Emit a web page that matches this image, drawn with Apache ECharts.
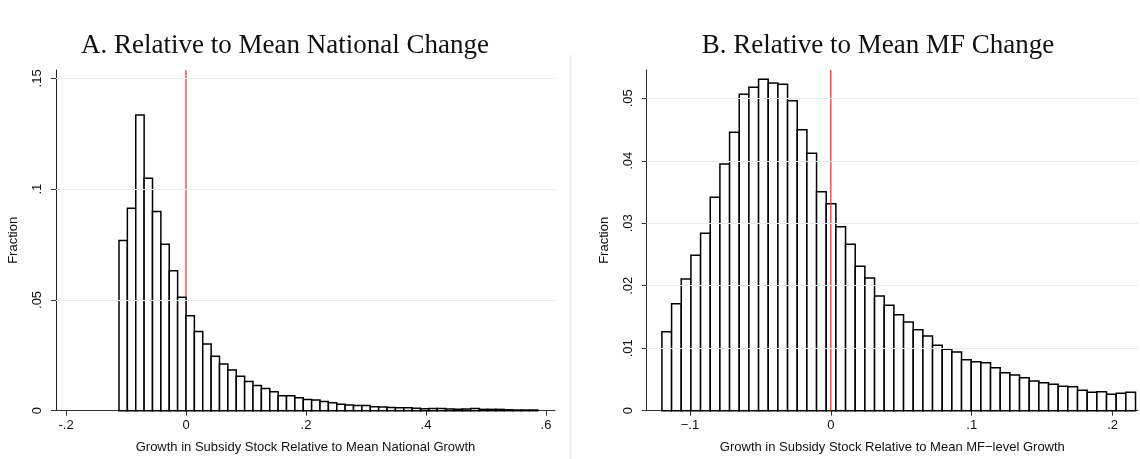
<!DOCTYPE html>
<html>
<head>
<meta charset="utf-8">
<script src="https://cdn.jsdelivr.net/npm/echarts@6/dist/echarts.min.js"></script>
<style>html,body{margin:0;padding:0;background:#fff}#c{width:1140px;height:459px}</style>
</head>
<body>
<div id="c"></div>
<script>
// ---- Panel A data: histogram of growth relative to mean national growth ----
const titleA = "A. Relative to Mean National Change";
const xNameA = "Growth in Subsidy Stock Relative to Mean National Growth";
const binStartA = -0.1117;
const binWidthA = 0.01396;
const fractionA = [
  0.0768, 0.0914, 0.1335, 0.1049, 0.0899, 0.0751, 0.0632, 0.0512, 0.0429, 0.0357,
  0.0301, 0.0246, 0.0211, 0.0184, 0.0155, 0.0132, 0.0114, 0.0100, 0.0085, 0.0067,
  0.0068, 0.0059, 0.0051, 0.0048, 0.0041, 0.0036, 0.0029, 0.0026, 0.0024, 0.0023,
  0.0018, 0.0017, 0.0014, 0.0013, 0.0013, 0.0011, 0.0009, 0.0010, 0.0010, 0.0008,
  0.0007, 0.0008, 0.0010, 0.0006, 0.0006, 0.0006, 0.0004, 0.0003, 0.0003, 0.0003
];
const xTicksA = [-0.2, 0, 0.2, 0.4, 0.6];
const yTicksA = [0, 0.05, 0.1, 0.15];
const xRangeA = [-0.2167, 0.615];
const yRangeA = [0, 0.1538];

// ---- Panel B data: histogram of growth relative to mean MF-level growth ----
const titleB = "B. Relative to Mean MF Change";
const xNameB = "Growth in Subsidy Stock Relative to Mean MF\u2212level Growth";
const binStartB = -0.1199;
const binWidthB = 0.00686;
const fractionB = [
  0.01265, 0.01713, 0.02108, 0.02487, 0.02839, 0.03415, 0.03948, 0.04455, 0.05063, 0.05175,
  0.05303, 0.05245, 0.05223, 0.04961, 0.04498, 0.04120, 0.03505, 0.03313, 0.02945, 0.02663,
  0.02311, 0.02124, 0.01836, 0.01687, 0.01537, 0.01420, 0.01297, 0.01196, 0.01047, 0.00983,
  0.00940, 0.00817, 0.00785, 0.00769, 0.00689, 0.00609, 0.00572, 0.00529, 0.00476, 0.00449,
  0.00423, 0.00390, 0.00385, 0.00327, 0.00294, 0.00305, 0.00262, 0.00278, 0.00294
];
const xTicksB = [-0.1, 0, 0.1, 0.2];
const yTicksB = [0, 0.01, 0.02, 0.03, 0.04, 0.05];
const xRangeB = [-0.1307, 0.218];
const yRangeB = [0, 0.05453];

const yName = "Fraction";
const refLineX = 0;

function stataNum(v, minus) {
  let s = String(+v.toFixed(4));
  if (s === "0") return "0";
  s = s.replace(/^(-?)0\./, "$1.");
  if (minus) s = s.replace("-", "\u2212");
  return s;
}
function bins(start, width, values) {
  return values.map((h, i) => [start + i * width, start + (i + 1) * width, h]);
}
function renderBar(params, api) {
  const p0 = api.coord([api.value(0), api.value(2)]);
  const p1 = api.coord([api.value(1), 0]);
  return {
    type: 'rect',
    shape: { x: p0[0], y: p0[1], width: p1[0] - p0[0], height: p1[1] - p0[1] },
    style: { fill: '#ffffff', stroke: '#000000', lineWidth: 1.5 }
  };
}
function gridLines(ticks) {
  return {
    silent: true, symbol: 'none', label: { show: false }, animation: false,
    lineStyle: { color: '#e4edf0', width: 1, type: 'solid' },
    data: ticks.filter(t => t > 0).map(t => ({ yAxis: t }))
  };
}

const sans = "Liberation Sans, Arial, sans-serif";
const tickLabel = { fontFamily: sans, fontSize: 13, color: '#111' };

function xAxisCfg(gridIndex, range, ticks, name, minus) {
  return {
    type: 'value', gridIndex, min: range[0], max: range[1],
    name, nameLocation: 'middle', nameGap: 30,
    nameTextStyle: { fontFamily: sans, fontSize: 13, color: '#111' },
    axisLine: { show: true, onZero: false, lineStyle: { color: '#333', width: 1 } },
    axisTick: { show: true, length: 5, customValues: ticks, lineStyle: { color: '#333' } },
    axisLabel: Object.assign({ customValues: ticks, margin: 8, formatter: v => stataNum(v, minus) }, tickLabel),
    splitLine: { show: false }
  };
}
function yAxisCfg(gridIndex, range, ticks, nameGap, labelMargin) {
  return {
    type: 'value', gridIndex, min: range[0], max: range[1],
    name: yName, nameLocation: 'middle', nameGap,
    nameTextStyle: { fontFamily: sans, fontSize: 13, color: '#111' },
    axisLine: { show: true, onZero: false, lineStyle: { color: '#222', width: 1 } },
    axisTick: { show: true, length: 5, customValues: ticks, lineStyle: { color: '#333' } },
    axisLabel: Object.assign({ customValues: ticks, rotate: 90, margin: labelMargin, formatter: v => stataNum(v, false) }, tickLabel),
    splitLine: { show: false }
  };
}

const titleFont = { fontFamily: 'Liberation Serif, Times New Roman, serif', fontWeight: 'normal', fontSize: 27, color: '#111' };

const chart = echarts.init(document.getElementById('c'), null, { renderer: 'canvas' });
chart.setOption({
  animation: false,
  backgroundColor: '#ffffff',
  title: [
    { text: titleA, left: 280, top: 27, textAlign: 'center', textStyle: titleFont },
    { text: titleB, left: 873, top: 27, textAlign: 'center', textStyle: titleFont }
  ],
  grid: [
    { left: 56, width: 499, top: 70, height: 340.7 },
    { left: 646.7, width: 491.3, top: 70, height: 340.7 }
  ],
  xAxis: [
    xAxisCfg(0, xRangeA, xTicksA, xNameA, false),
    xAxisCfg(1, xRangeB, xTicksB, xNameB, true)
  ],
  yAxis: [
    yAxisCfg(0, yRangeA, yTicksA, 36, 12),
    yAxisCfg(1, yRangeB, yTicksB, 36, 12)
  ],
  graphic: [
    { type: 'line', shape: { x1: 570.5, y1: 55, x2: 570.5, y2: 459 }, style: { stroke: '#e3edf1', lineWidth: 1.5 }, silent: true }
  ],
  series: [
    { type: 'line', xAxisIndex: 0, yAxisIndex: 0, symbol: 'none', z: 1,
      data: [[refLineX, yRangeA[0]], [refLineX, yRangeA[1]]], lineStyle: { color: '#ff0000', width: 1 } },
    { type: 'custom', xAxisIndex: 0, yAxisIndex: 0, renderItem: renderBar, data: bins(binStartA, binWidthA, fractionA), z: 2,
      markLine: gridLines(yTicksA) },
    { type: 'custom', xAxisIndex: 1, yAxisIndex: 1, renderItem: renderBar, data: bins(binStartB, binWidthB, fractionB), z: 2,
      markLine: gridLines(yTicksB) },
    { type: 'line', xAxisIndex: 1, yAxisIndex: 1, symbol: 'none', z: 3,
      data: [[refLineX, yRangeB[0]], [refLineX, yRangeB[1]]], lineStyle: { color: '#ff2020', width: 1.2 } }
  ]
});
</script>
</body>
</html>
